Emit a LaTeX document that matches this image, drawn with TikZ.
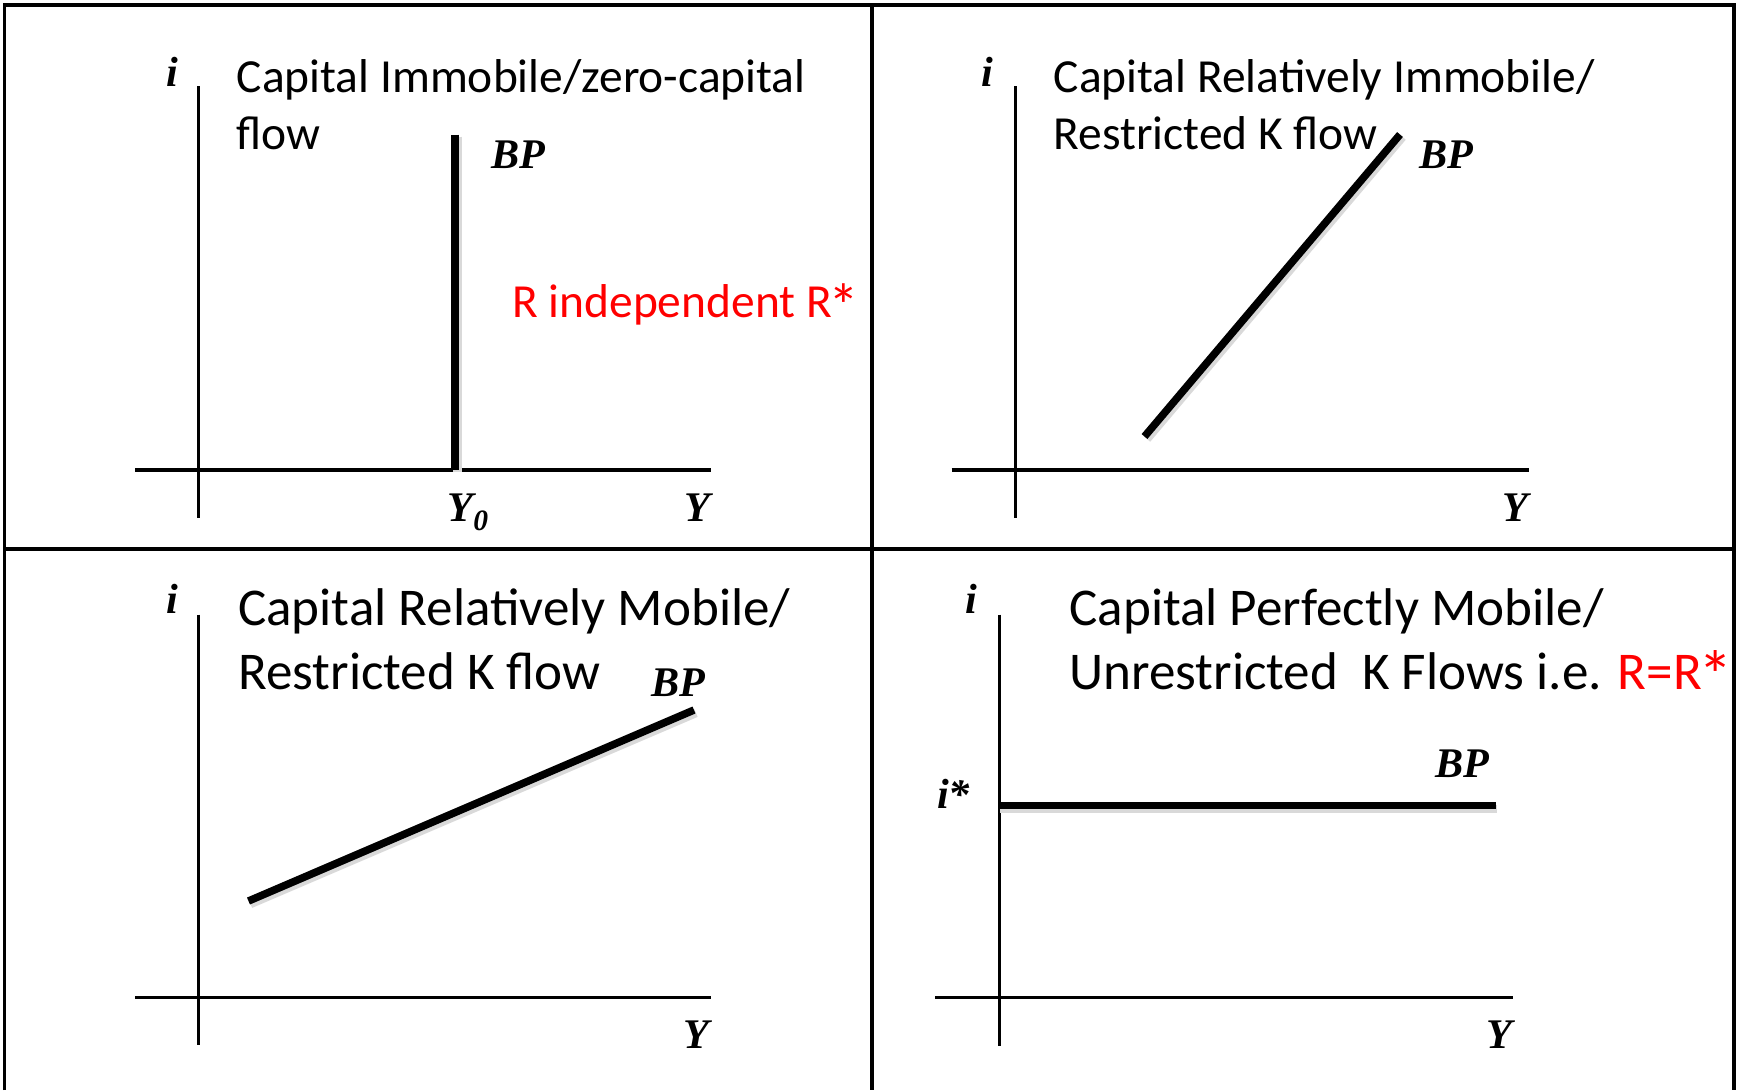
\documentclass[tikz,border=0pt]{standalone}
\usepackage{fontspec}
\usepackage{graphicx}
\setmainfont{Liberation Serif}
\newfontfamily\calib{Carlito}
\newcommand{\bigast}{\kern-0.07em\raisebox{-0.2em}{\scalebox{1.3}{*}}}
\begin{document}
\begin{tikzpicture}[x=0.01cm,y=-0.01cm,
  frame/.style={line width=1pt,black},
  axis/.style={line width=0.95pt,black},
  bpline/.style={line width=2.15pt,black},
  bpshadow/.style={line width=2.4pt,black!15},
  ttlA/.style={inner sep=0,anchor=base west,font=\calib\fontsize{13.5}{16}\selectfont},
  ttlB/.style={inner sep=0,anchor=base west,font=\calib\fontsize{15.1}{18}\selectfont},
  lbl/.style={inner sep=0,font=\fontsize{12}{14}\selectfont\bfseries\itshape},
]
\useasboundingbox (0,0) rectangle (1738,1090);
\fill[white] (0,0) rectangle (1738,1090);

% frame
\coordinate (fbl) at (4.5,1090);
\coordinate (ftl) at (4.5,5);
\coordinate (ftr) at (1734,5);
\coordinate (fbr) at (1734,1090);
\coordinate (fml) at (4.5,549);
\coordinate (fmr) at (1734,549);
\coordinate (fmt) at (872,5);
\coordinate (fmb) at (872,1090);
\draw[frame] (fbl) -- (ftl) -- (ftr) -- (fbr);
\draw[frame] (fml) -- (fmr);
\draw[frame] (fmt) -- (fmb);

% ---------- panel 1 ----------
\coordinate (v1t) at (198.7,86);
\coordinate (v1b) at (198.7,517.5);
\coordinate (h1l) at (135,470);
\coordinate (h1r) at (710.5,470);
\draw[axis] (v1t) -- (v1b);
\draw[axis] (h1l) -- (h1r);
\coordinate (b1t) at (455,134.5);
\coordinate (b1b) at (455,470);
\draw[bpshadow] ([shift={(2.5,2)}]b1t) -- ([shift={(2.5,2)}]b1b);
\draw[bpline] (b1t) -- (b1b);
\node[lbl,anchor=base] (i1) at (172.5,86) {i};
\node[ttlA] (t1a) at (236,92) {Capital Immobile/zero-capital};
\node[ttlA] (t1b) at (236,149) {flow};
\node[lbl,anchor=base west] (bp1) at (491,168.5) {BP};
\node[ttlA,text=red] (r1) at (511.5,317.5) {R independent R\bigast};
\node[lbl,anchor=base west] (y01) at (447,521) {Y\raisebox{-2.8pt}{\fontsize{8.4}{9}\selectfont 0}};
\node[lbl,anchor=base east] (y1) at (710.5,521) {Y};

% ---------- panel 2 ----------
\coordinate (v2t) at (1015.5,86);
\coordinate (v2b) at (1015.5,517.5);
\coordinate (h2l) at (951.5,470);
\coordinate (h2r) at (1529,470);
\draw[axis] (v2t) -- (v2b);
\draw[axis] (h2l) -- (h2r);
\coordinate (b2a) at (1144.5,436.5);
\coordinate (b2b) at (1400,134.5);
\draw[bpshadow] ([shift={(2.5,2.5)}]b2a) -- ([shift={(2.5,2.5)}]b2b);
\draw[bpline] (b2a) -- (b2b);
\node[lbl,anchor=base] (i2) at (987.5,86) {i};
\node[ttlA] (t2a) at (1053,92) {Capital Relatively Immobile/};
\node[ttlA] (t2b) at (1053,149) {Restricted K flow};
\node[lbl,anchor=base west] (bp2) at (1419,168.5) {BP};
\node[lbl,anchor=base east] (y2) at (1528.5,521) {Y};

% ---------- panel 3 ----------
\coordinate (v3t) at (198.7,614.5);
\coordinate (v3b) at (198.7,1045);
\coordinate (h3l) at (135,997.5);
\coordinate (h3r) at (710.5,997.5);
\draw[axis] (v3t) -- (v3b);
\draw[axis] (h3l) -- (h3r);
\coordinate (b3a) at (248.5,901);
\coordinate (b3b) at (694,710);
\draw[bpshadow] ([shift={(2,3)}]b3a) -- ([shift={(2,3)}]b3b);
\draw[bpline] (b3a) -- (b3b);
\node[lbl,anchor=base] (i3) at (172,613.5) {i};
\node[ttlB] (t3a) at (237.5,625) {Capital Relatively Mobile/};
\node[ttlB] (t3b) at (237.5,689) {Restricted K flow};
\node[lbl,anchor=base west] (bp3) at (650.5,696) {BP};
\node[lbl,anchor=base east] (y3) at (709.5,1048) {Y};

% ---------- panel 4 ----------
\coordinate (v4t) at (999.3,614.5);
\coordinate (v4b) at (999.3,1045.5);
\coordinate (h4l) at (935,997.5);
\coordinate (h4r) at (1512.5,997.5);
\draw[axis] (v4t) -- (v4b);
\draw[axis] (h4l) -- (h4r);
\coordinate (b4a) at (999.3,805.5);
\coordinate (b4b) at (1496,805.5);
\draw[bpshadow] ([shift={(1,3.5)}]b4a) -- ([shift={(1,3.5)}]b4b);
\draw[bpline] (b4a) -- (b4b);
\node[lbl,anchor=base] (i4) at (971.7,613.5) {i};
\node[lbl,anchor=base west] (is4) at (936.5,808) {i*};
\node[ttlB] (t4a) at (1068.7,625) {Capital Perfectly Mobile/};
\node[ttlB] (t4b) at (1068.7,689) {Unrestricted\ \ K Flows i.e. \textcolor{red}{R=R\bigast}};
\node[lbl,anchor=base west] (bp4) at (1435,777) {BP};
\node[lbl,anchor=base east] (y4) at (1512.5,1048) {Y};
\end{tikzpicture}
\end{document}
